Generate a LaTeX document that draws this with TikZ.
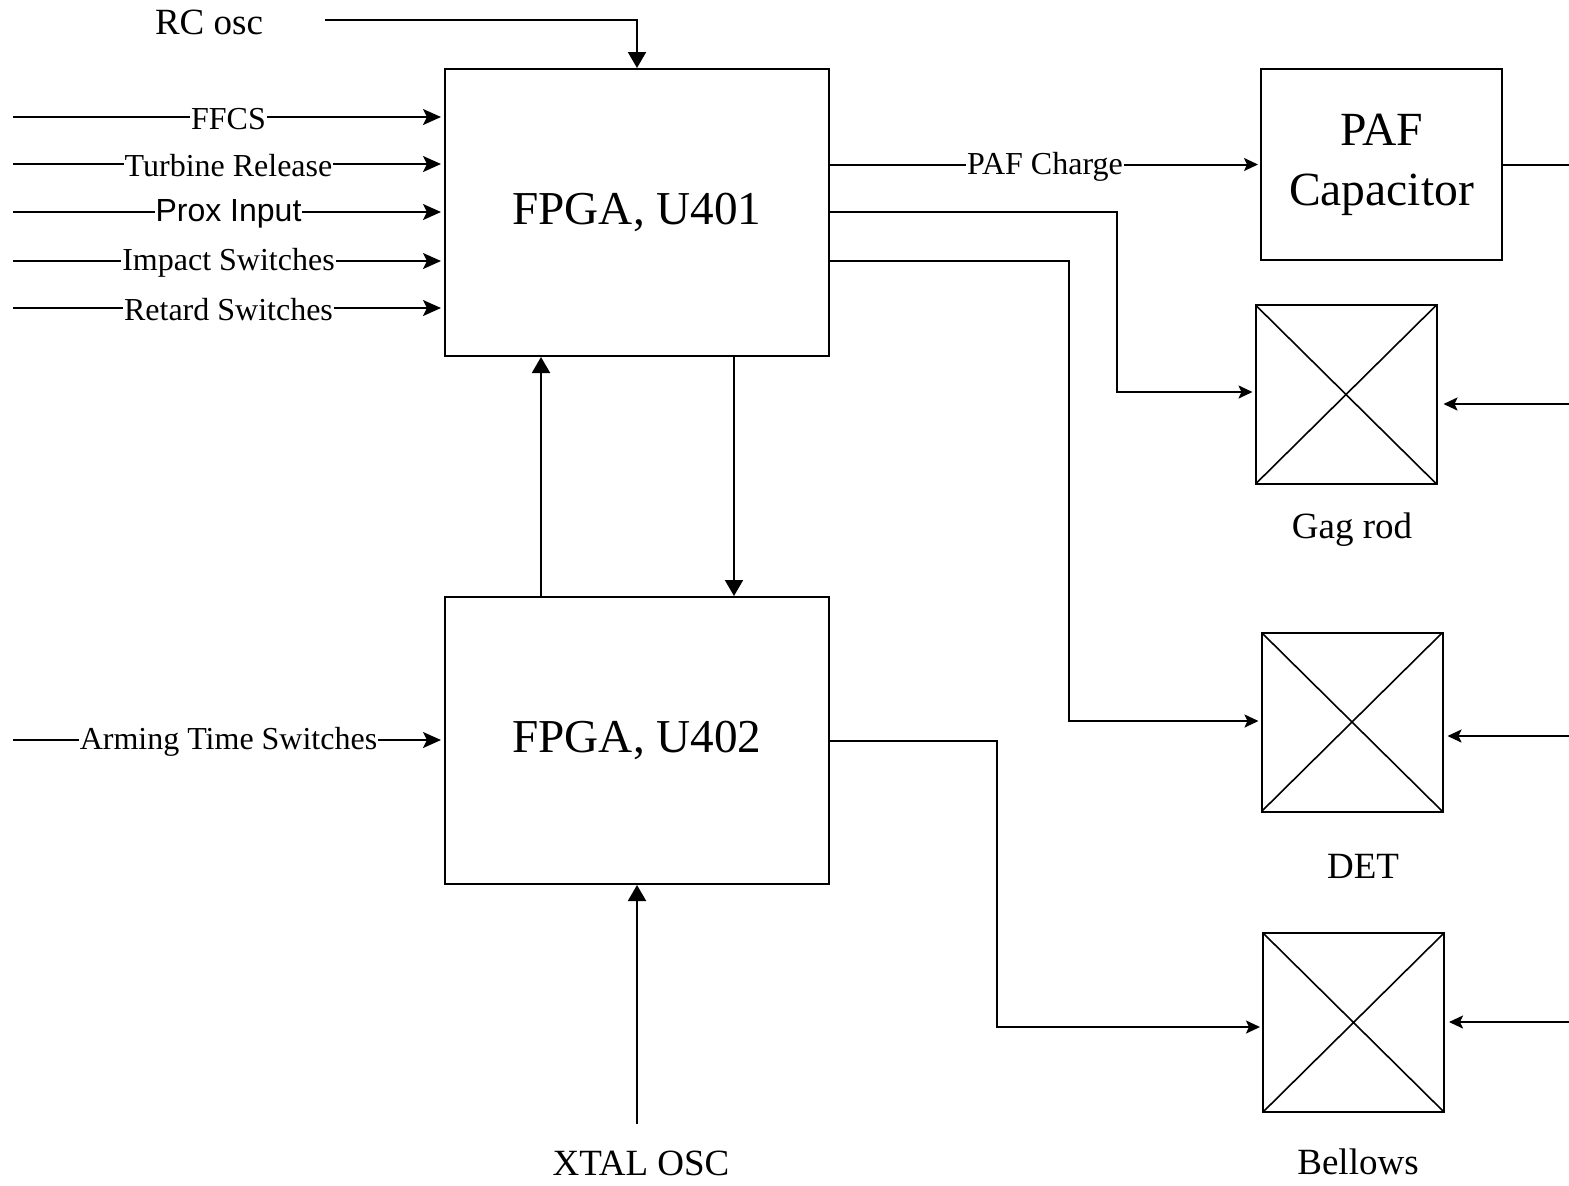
\documentclass[tikz,border=0pt]{standalone}
\usepackage{fontspec}
\setmainfont{Liberation Serif}
\newfontfamily\arialfont{Liberation Sans}
\usetikzlibrary{arrows.meta,positioning}

\begin{document}
\begin{tikzpicture}[x=0.5pt,y=-0.5pt,line width=1pt]
\tikzstyle{fpga} = [rectangle, draw, line width=1pt, minimum width=192pt, minimum height=143.5pt, inner sep=0pt, font=\fontsize{23.6}{28}\selectfont]
\tikzstyle{capbox} = [rectangle, draw, line width=1pt, minimum width=120.5pt, minimum height=95.5pt, inner sep=0pt, align=center, font=\fontsize{23.8}{30}\selectfont]
\tikzstyle{xbox} = [rectangle, draw, line width=1pt, minimum width=90.5pt, minimum height=89.5pt, inner sep=0pt,
  path picture={\draw[line width=0.8pt] (path picture bounding box.north west) -- (path picture bounding box.south east)
    (path picture bounding box.south west) -- (path picture bounding box.north east);}]
\tikzstyle{biglabel} = [font=\fontsize{18.5}{22}\selectfont]
\tikzstyle{siglabel} = [fill=white, inner sep=0.5pt, yshift=-1pt, font=\fontsize{16}{19}\selectfont]
\tikzstyle{inarrow} = [-{Stealth[length=9pt,width=8pt,inset=2pt,fill=black]}, shorten >=1.5pt]
\tikzstyle{bigarrow} = [-{Triangle[length=8pt,width=9pt]}]
\tikzstyle{smallarrow} = [-{Stealth[length=7pt,width=6.5pt,inset=1.5pt,fill=black]}, shorten >=1pt]

\useasboundingbox (0,0) rectangle (1569,1185);

% blocks
\node (u401) [fpga] at (637,212.5) {FPGA, U401};
\node (u402) [fpga] at (637,740.5) {FPGA, U402};
\node (paf) [capbox] at (1381.5,164.5) {PAF\\Capacitor};
\node (gagrod) [xbox] at (1346,394.5) {};
\node (det) [xbox] at (1352,722) {};
\node (bellows) [xbox] at (1353.5,1022.5) {};

% labels
\node (rcosc) [biglabel] at (209,22) {RC osc};
\node (xtal) [biglabel] at (641,1163) {XTAL OSC};
\node (gaglabel) [biglabel] at (1352,530) {Gag rod};
\node (detlabel) [biglabel] at (1363,866) {DET};
\node (bellowslabel) [biglabel] at (1358,1162) {Bellows};

% free ends
\coordinate (rcend) at (325,20);
\coordinate (xtalend) at (637,1124);
\coordinate (ffcs) at (13,117);
\coordinate (turbine) at (13,164);
\coordinate (prox) at (13,212);
\coordinate (impact) at (13,261);
\coordinate (retard) at (13,308);
\coordinate (arming) at (13,740);
\coordinate (pafout) at (1569,164.5);
\coordinate (gagin) at (1569,404);
\coordinate (detin) at (1569,736);
\coordinate (bellowsin) at (1569,1022);

% oscillators
\draw [bigarrow] (rcend) -- (rcend -| u401.north) -- (u401.north);
\draw [bigarrow] (xtalend) -- (u402.south);

% inputs
\draw [inarrow] (ffcs) -- (ffcs -| u401.west) node [siglabel, midway] {FFCS};
\draw [inarrow] (turbine) -- (turbine -| u401.west) node [siglabel, midway] {Turbine Release};
\draw [inarrow] (prox) -- (prox -| u401.west) node [siglabel, midway, font=\arialfont\fontsize{16}{19}\selectfont] {Prox Input};
\draw [inarrow] (impact) -- (impact -| u401.west) node [siglabel, midway] {Impact Switches};
\draw [inarrow] (retard) -- (retard -| u401.west) node [siglabel, midway] {Retard Switches};
\draw [inarrow] (arming) -- (arming -| u402.west) node [siglabel, midway] {Arming Time Switches};

% between the FPGAs
\draw [bigarrow] (u402.north -| 541,0) -- (u401.south -| 541,0);
\draw [bigarrow] (u401.south -| 734,0) -- (u402.north -| 734,0);

% outputs
\draw [smallarrow] (u401.east |- paf.west) -- (paf.west) node [siglabel, midway] {PAF Charge};
\draw (paf.east) -- (pafout);
\draw [smallarrow] (u401.east |- 0,212) -| (1117,392) -- (gagrod.west |- 0,392);
\draw [smallarrow] (u401.east |- 0,261) -| (1069,721) -- (det.west |- 0,721);
\draw [smallarrow] (u402.east) -| (997,1027) -- (bellows.west |- 0,1027);

% drive from the right
\draw [smallarrow, shorten >=3pt] (gagin) -- (gagin -| gagrod.east);
\draw [smallarrow, shorten >=2pt] (detin) -- (detin -| det.east);
\draw [smallarrow, shorten >=2pt] (bellowsin) -- (bellowsin -| bellows.east);
\end{tikzpicture}
\end{document}
